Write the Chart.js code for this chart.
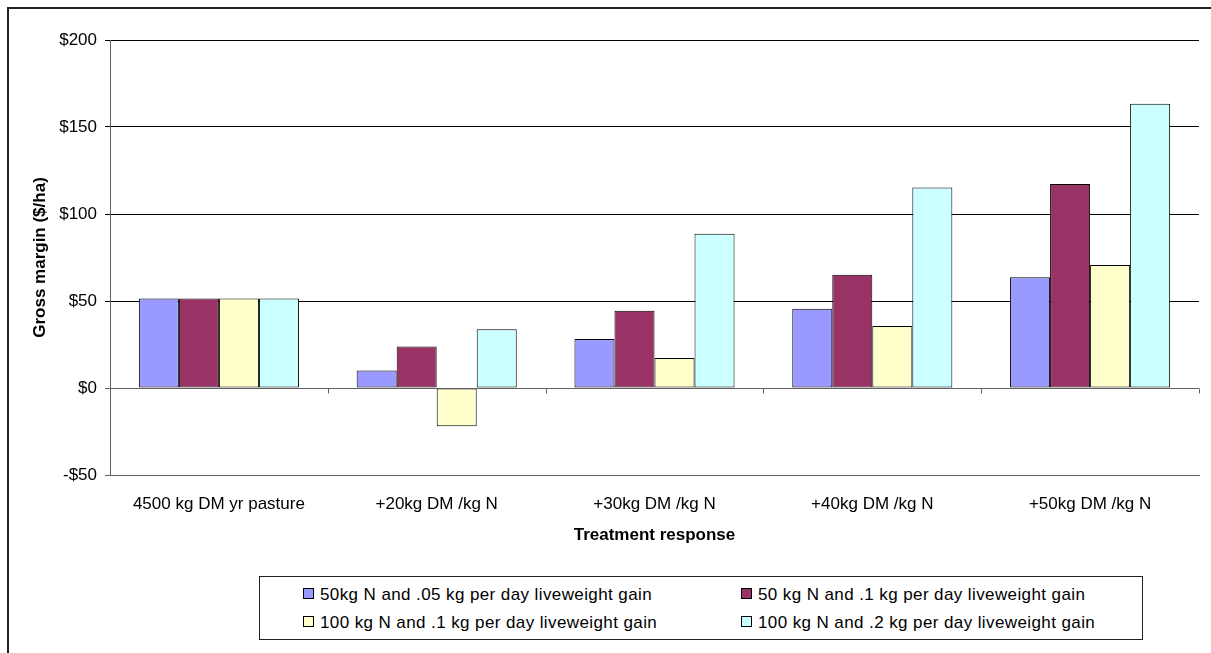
<!DOCTYPE html>
<html>
<head>
<meta charset="utf-8">
<script src="https://cdn.jsdelivr.net/npm/chart.js@4.4.1/dist/chart.umd.min.js"></script>
<style>
  body { margin: 0; background: #fff; }
  #wrap { position: relative; width: 1211px; height: 653px; overflow: hidden; }
  #frame { position: absolute; left: 7px; top: 7px; width: 1220px; height: 700px;
           border-left: 2px solid #222; border-top: 2px solid #222; box-sizing: border-box; }
  #legend { position: absolute; left: 259px; top: 576px; width: 884px; height: 64px;
            border: 1px solid #222; box-sizing: border-box; background: #fff;
            font-family: "Liberation Sans", Arial, sans-serif; font-size: 17px; color: #000; }
  .item { position: absolute; white-space: nowrap; line-height: 18px; letter-spacing: 0.4px; }
  .item span.box { display: inline-block; width: 9px; height: 9px; border: 1px solid #000;
                   margin-right: 6px; vertical-align: 1px; }
</style>
</head>
<body>
<div id="wrap">
  <div id="frame"></div>
  <canvas id="chart" width="1211" height="653"></canvas>
  <div id="legend"></div>
</div>
<script>
// ----- DATA -----

const categories = [
  "4500 kg DM yr pasture",
  "+20kg DM /kg N",
  "+30kg DM /kg N",
  "+40kg DM /kg N",
  "+50kg DM /kg N",
];

const seriesNames = [
  "50kg N and .05 kg per day liveweight gain",
  "50 kg N and .1 kg per day liveweight gain",
  "100 kg N and .1 kg per day liveweight gain",
  "100 kg N and .2 kg per day liveweight gain",
];

const lowN_lowGain = [51.5, 10, 28.2, 45.5, 63.6];
const lowN_highGain = [51.5, 23.8, 44.4, 65.1, 117.3];
const highN_lowGain = [51.5, -22, 17.3, 35.7, 70.7];
const highN_highGain = [51.5, 33.8, 88.7, 115.2, 163.3];

const yTicks = [-50, 0, 50, 100, 150, 200];

const colors = ["#9999FF", "#993366", "#FFFFCC", "#CCFFFF"];
const values = [lowN_lowGain, lowN_highGain, highN_lowGain, highN_highGain];

const FONT = "'Liberation Sans', Arial, sans-serif";

// ----- PLUGIN: zero axis with ticks, axis titles -----

const decor = {
  id: "decor",
  afterDatasetsDraw(chart) {
    const { ctx, chartArea, scales } = chart;
    const x = scales.x;
    const y0 = Math.round(scales.y.getPixelForValue(0)) + 0.5;
    ctx.save();
    ctx.strokeStyle = "#606060";
    ctx.lineWidth = 1;
    ctx.beginPath();
    ctx.moveTo(chartArea.left, y0);
    ctx.lineTo(chartArea.right, y0);
    for (let i = 0; i <= categories.length; i++) {
      const px = Math.round(x.getPixelForValue(i - 0.5)) + 0.5;
      ctx.moveTo(px, y0);
      ctx.lineTo(px, y0 + 5);
    }
    ctx.stroke();

    ctx.fillStyle = "#000";
    ctx.font = "bold 17px " + FONT;
    ctx.textAlign = "center";
    ctx.textBaseline = "middle";
    ctx.fillText("Treatment response", (chartArea.left + chartArea.right) / 2, 535);
    ctx.translate(40, (chartArea.top + chartArea.bottom) / 2);
    ctx.rotate(-Math.PI / 2);
    ctx.fillText("Gross margin ($/ha)", 0, 0);
    ctx.restore();
  },
};

// ----- CHART -----

const ctx = document.getElementById("chart").getContext("2d");

new Chart(ctx, {
  type: "bar",
  data: {
    labels: categories,
    datasets: seriesNames.map((name, i) => ({
      label: name,
      data: values[i],
      backgroundColor: colors[i],
      borderColor: "#000",
      borderWidth: 1,
      borderSkipped: false,
      categoryPercentage: 0.735,
      barPercentage: 1,
    })),
  },
  options: {
    responsive: false,
    animation: false,
    layout: { padding: { top: 40, right: 12, left: 0, bottom: 0 } },
    plugins: {
      legend: { display: false },
      tooltip: { enabled: false },
    },
    scales: {
      x: {
        grid: { display: false },
        border: { display: true, color: "#606060", width: 1 },
        ticks: {
          color: "#000",
          font: { family: FONT, size: 17 },
          padding: 11,
          maxRotation: 0,
        },
        afterFit: (s) => { s.height = 178; },
      },
      y: {
        min: -50,
        max: 200,
        afterBuildTicks: (s) => { s.ticks = yTicks.map((v) => ({ value: v })); },
        grid: {
          color: (c) => (c.tick && c.tick.value <= 0 ? "#606060" : "#000"),
          tickLength: 5,
          lineWidth: 1,
        },
        border: { display: true, color: "#606060", width: 1 },
        ticks: {
          color: "#000",
          font: { family: FONT, size: 17 },
          padding: 8,
          callback: (v) => (v < 0 ? "-$" + Math.abs(v) : "$" + v),
        },
        afterFit: (s) => { s.width = 110; },
      },
    },
  },
  plugins: [decor],
});

// ----- LEGEND -----

const legend = document.getElementById("legend");
const legendPos = [
  [43, 9], [481, 9],
  [43, 37], [481, 37],
];
seriesNames.forEach((name, i) => {
  const el = document.createElement("div");
  el.className = "item";
  el.style.left = legendPos[i][0] + "px";
  el.style.top = legendPos[i][1] + "px";
  el.innerHTML = `<span class="box" style="background:${colors[i]}"></span>${name}`;
  legend.appendChild(el);
});
</script>
</body>
</html>
